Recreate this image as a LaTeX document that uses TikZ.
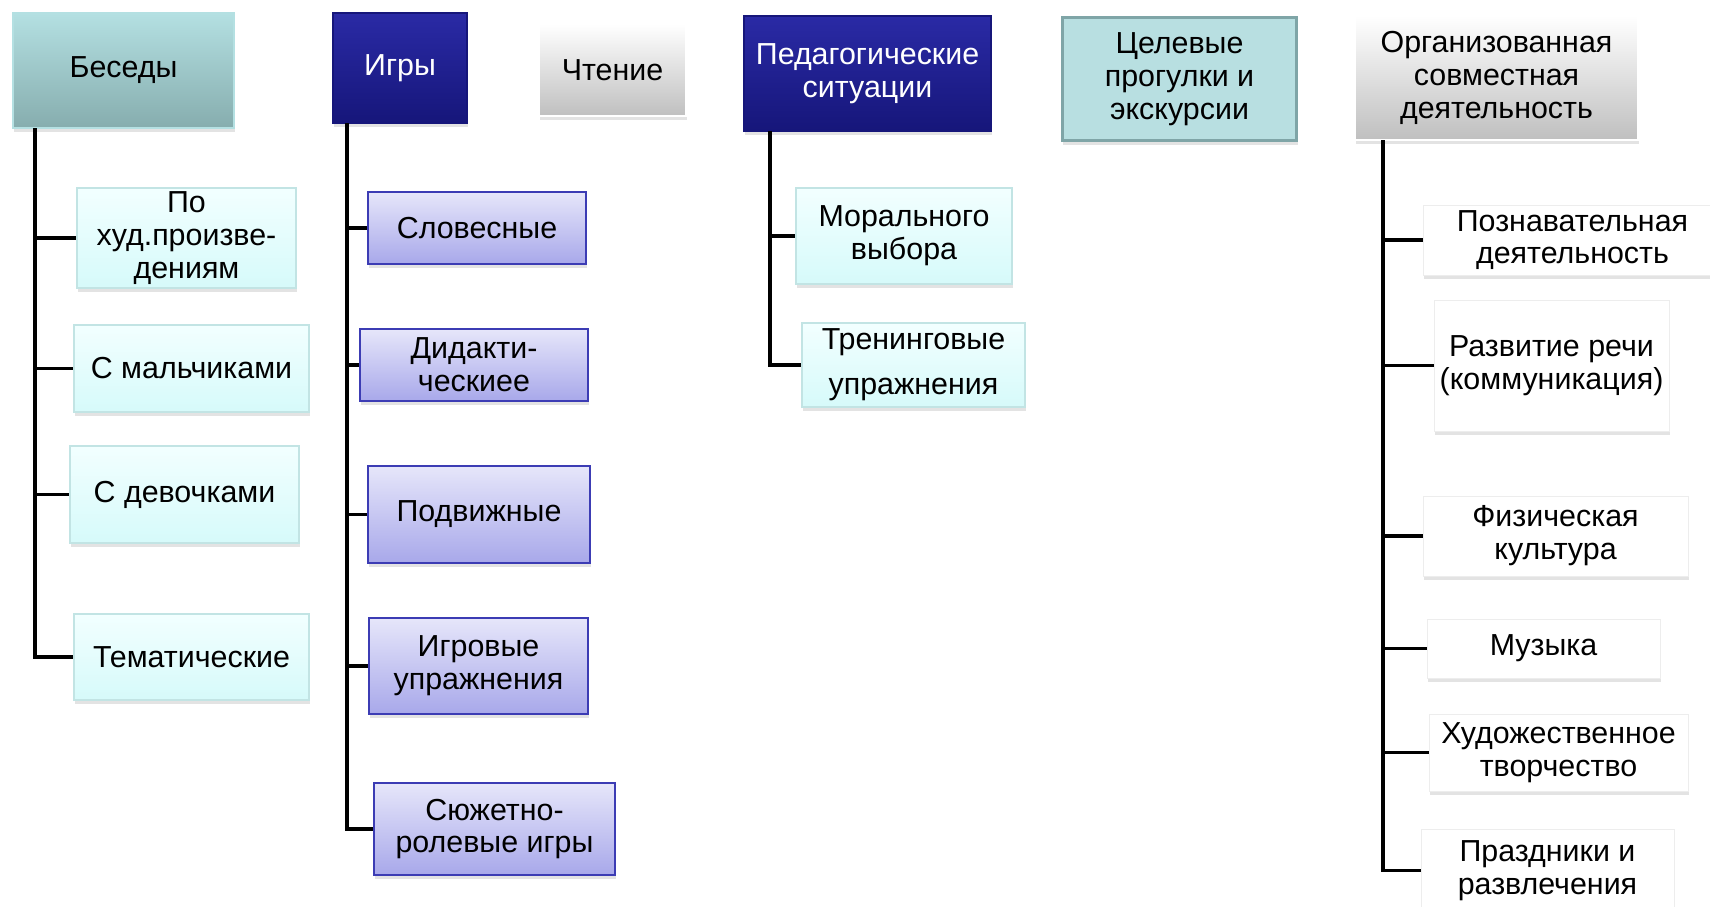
\documentclass[tikz,border=0pt]{standalone}
\usepackage{fontspec}
\setmainfont{Liberation Sans}
\usetikzlibrary{shadows}

\definecolor{tealtop}{HTML}{B4E0E2}
\definecolor{tealbot}{HTML}{86ADAE}
\definecolor{navytop}{HTML}{2A2AA5}
\definecolor{navybot}{HTML}{16167A}
\definecolor{cyantop}{HTML}{F2FFFF}
\definecolor{cyanbot}{HTML}{D6FAFA}
\definecolor{cyanline}{HTML}{C2E4E4}
\definecolor{lavtop}{HTML}{E6E6FA}
\definecolor{lavbot}{HTML}{A8A8EA}
\definecolor{lavline}{HTML}{3C3CB4}
\definecolor{celfill}{HTML}{B8DFE1}
\definecolor{celline}{HTML}{7FA5A7}

\tikzset{
  base/.style={rectangle, align=center, inner sep=2pt,
    font=\fontsize{17.3}{18.7}\selectfont,
    drop shadow={opacity=0.22, shadow xshift=0.6pt, shadow yshift=-2.4pt}},
  tealhead/.style={base, top color=tealtop, bottom color=tealbot, draw=tealtop, line width=0.8pt},
  navyhead/.style={base, top color=navytop, bottom color=navybot, draw=navybot, line width=0.8pt, text=white},
  grayhead/.style={base, top color=white, bottom color=black!25, draw=white, line width=0.8pt},
  celhead/.style={base, fill=celfill, draw=celline, line width=1.7pt},
  cyanleaf/.style={base, top color=cyantop, bottom color=cyanbot, draw=cyanline, line width=0.8pt},
  lavleaf/.style={base, top color=lavtop, bottom color=lavbot, draw=lavline, line width=1pt},
  whiteleaf/.style={base, fill=white, draw=black!7, line width=0.5pt},
  trunk/.style={line width=2.2pt, black}
}

% style, name, x1, y1, x2, y2, text
\newcommand{\block}[7]{\node[#1, minimum width={(#5-#3)*0.569pt}, minimum height={(#6-#4)*0.569pt}] (#2) at ({(#3+#5)/2},{(#4+#6)/2}) {#7};}

\begin{document}
\begin{tikzpicture}[x=0.02cm, y=-0.02cm]
        \useasboundingbox[fill=white] (0,0) rectangle (1710,906);

        % heads
        \block{tealhead}{besedy}{13}{13}{234}{128}{Беседы}
        \block{navyhead}{igry}{333}{13}{467}{123}{Игры}
        \block{grayhead}{chtenie}{539}{24}{686}{116}{Чтение}
        \block{navyhead}{pedsit}{744}{16}{991}{131}{Педагогические\\ситуации}
        \block{celhead}{celevye}{1062}{17}{1297}{141}{Целевые\\прогулки и\\экскурсии}
        \block{grayhead}{orgsov}{1355}{16}{1638}{140}{Организованная\\совместная\\деятельность}

        % besedy
        \block{cyanleaf}{b1}{77}{191}{296}{285}{По\\худ.произве-\\дениям}
        \block{cyanleaf}{b2}{74}{325}{309}{412}{С мальчиками}
        \block{cyanleaf}{b3}{70}{446}{299}{543}{С девочками}
        \block{cyanleaf}{b4}{74}{614}{309}{700}{Тематические}

        % igry
        \block{lavleaf}{g1}{368}{192}{586}{264}{Словесные}
        \block{lavleaf}{g2}{360}{329}{588}{401}{Дидакти-\\ческиее}
        \block{lavleaf}{g3}{368}{466}{590}{563}{Подвижные}
        \block{lavleaf}{g4}{369}{618}{588}{714}{Игровые\\упражнения}
        \block{lavleaf}{g5}{374}{783}{615}{875}{Сюжетно-\\ролевые игры}

        % pedsit
        \block{cyanleaf}{p1}{796}{188}{1012}{284}{Морального\\выбора}
        \block{cyanleaf}{p2}{802}{323}{1025}{407}{Тренинговые\\[7pt]упражнения}

        % orgsov
        \block{whiteleaf}{o1}{1423}{205}{1722}{275}{Познавательная\\деятельность}
        \block{whiteleaf}{o2}{1434}{300}{1669}{431}{Развитие речи\\(коммуникация)}
        \block{whiteleaf}{o3}{1423}{496}{1688}{576}{Физическая\\культура}
        \block{whiteleaf}{o4}{1427}{619}{1660}{678}{Музыка}
        \block{whiteleaf}{o5}{1429}{714}{1688}{791}{Художественное\\творчество}
        \block{whiteleaf}{o6}{1421}{829}{1674}{912}{Праздники и\\развлечения}

        % trunks
        \coordinate (bt) at (35,128);
        \coordinate (gt) at (347,123);
        \coordinate (pt) at (770,131);
        \coordinate (ot) at (1383,140);

        \draw[trunk] (bt) |- (b4.west);
        \foreach \n in {b1,b2,b3} \draw[trunk] (bt |- \n.west) -- (\n.west);

        \draw[trunk] (gt) |- (g5.west);
        \foreach \n in {g1,g2,g3,g4} \draw[trunk] (gt |- \n.west) -- (\n.west);

        \draw[trunk] (pt) |- (p2.west);
        \draw[trunk] (pt |- p1.west) -- (p1.west);

        \draw[trunk] (ot) |- (o6.west);
        \foreach \n in {o1,o2,o3,o4,o5} \draw[trunk] (ot |- \n.west) -- (\n.west);

    \end{tikzpicture}
\end{document}
